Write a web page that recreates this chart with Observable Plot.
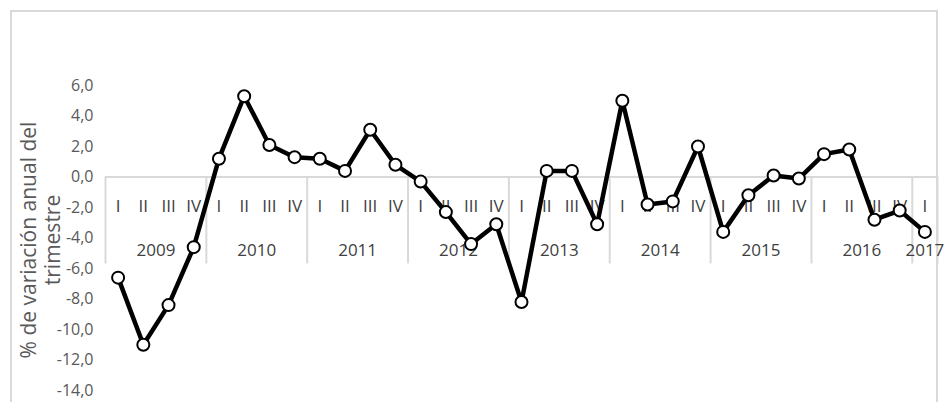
<!DOCTYPE html>
<html lang="es">
<head>
<meta charset="utf-8">
<title>Variación anual del trimestre</title>
<script src="https://cdn.jsdelivr.net/npm/d3@7"></script>
<script src="https://cdn.jsdelivr.net/npm/@observablehq/plot@0.6"></script>
<style>
  body { margin: 0; background: #fff; }
  #frame {
    position: absolute; left: 10px; top: 10px; width: 928px; height: 400px;
    border: 2px solid #d9d9d9; border-bottom: none; box-sizing: border-box;
  }
  #graphic { position: absolute; left: 0; top: 0; }
</style>
</head>
<body>
<div id="frame"></div>
<div id="graphic"></div>
<script>
  const years = ["2009", "2010", "2011", "2012", "2013", "2014", "2015", "2016", "2017"];
  const quarters = ["I", "II", "III", "IV"];
  const values = [
    -6.6, -11.0, -8.4, -4.6,
    1.2, 5.3, 2.1, 1.3,
    1.2, 0.4, 3.1, 0.8,
    -0.3, -2.3, -4.4, -3.1,
    -8.2, 0.4, 0.4, -3.1,
    5.0, -1.8, -1.6, 2.0,
    -3.6, -1.2, 0.1, -0.1,
    1.5, 1.8, -2.8, -2.2,
    -3.6
  ];

  const data = values.map((v, i) => ({i, v, q: quarters[i % 4], year: years[Math.floor(i / 4)]}));
  const yearGroups = years.map(y => ({
    year: y,
    mid: d3.mean(data.filter(d => d.year === y), d => d.i)
  }));
  const seps = d3.range(0, years.length).map(k => k * 4 - 0.5).concat([values.length - 0.5]);
  const font = "'Open Sans', 'Liberation Sans', sans-serif";

  const chart = Plot.plot({
    width: 947,
    height: 402,
    marginLeft: 105,
    marginRight: 10,
    marginTop: 85,
    marginBottom: 12,
    style: {fontFamily: font, fontSize: "16px", color: "#595959", background: "transparent"},
    x: {domain: [-0.5, values.length - 0.5], axis: null},
    y: {domain: [-14, 6], ticks: d3.range(-14, 7, 2), tickSize: 0, tickPadding: 12,
        tickFormat: d => d.toFixed(1).replace(".", ","), label: null},
    marks: [
      Plot.ruleY([0], {x1: -0.5, x2: values.length - 0.5, stroke: "#d9d9d9", strokeWidth: 2}),
      Plot.ruleX(seps, {y1: 0, y2: -5.7, stroke: "#d9d9d9", strokeWidth: 2}),
      Plot.text(data, {x: "i", y: 0, text: "q", dy: 30, fill: "#404040", fontSize: 17}),
      Plot.text(yearGroups, {x: "mid", y: 0, text: "year", dy: 74, fill: "#404040", fontSize: 17}),
      Plot.line(data, {x: "i", y: "v", stroke: "#000", strokeWidth: 4.5}),
      Plot.dot(data, {x: "i", y: "v", r: 6, fill: "#fff", stroke: "#000", strokeWidth: 2})
    ]
  });
  const svg = d3.select(chart);
  svg.append("text")
    .attr("transform", "translate(36,240) rotate(-90)")
    .attr("text-anchor", "middle")
    .attr("fill", "#595959")
    .style("font-size", "21px")
    .selectAll("tspan")
    .data(["% de variación anual del", "trimestre"])
    .join("tspan")
    .attr("x", 0)
    .attr("dy", (d, i) => i === 0 ? 0 : 24)
    .text(d => d);
  document.getElementById("graphic").appendChild(chart);
</script>
</body>
</html>
